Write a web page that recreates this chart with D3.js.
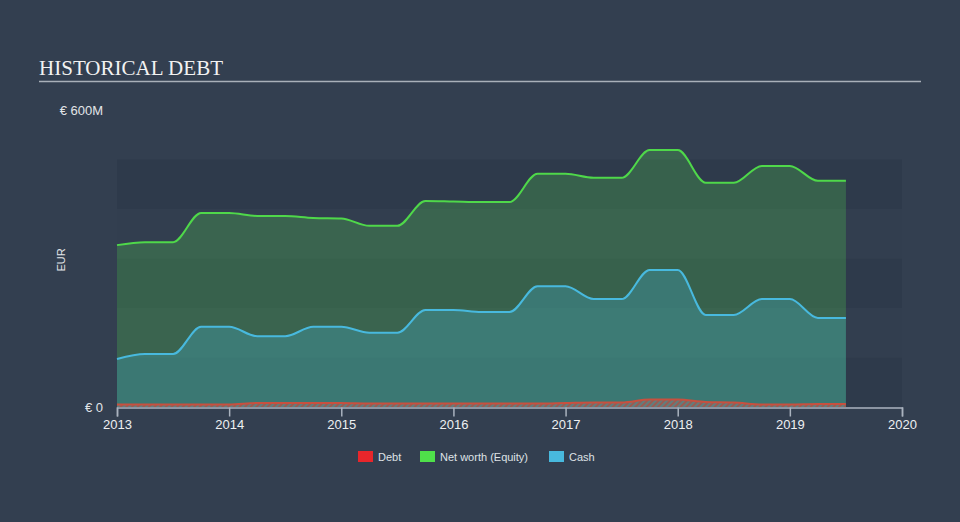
<!DOCTYPE html>
<html><head><meta charset="utf-8">
<script src="https://cdn.jsdelivr.net/npm/d3@7"></script>
<style>
html,body{margin:0;padding:0;background:#333f50;}
svg{display:block;}
</style></head>
<body>
<svg id="c" width="960" height="522"></svg>
<script>
const periods = [2013.0,2013.25,2013.5,2013.75,2014.0,2014.25,2014.5,2014.75,2015.0,2015.25,2015.5,2015.75,2016.0,2016.25,2016.5,2016.75,2017.0,2017.25,2017.5,2017.75,2018.0,2018.25,2018.5,2018.75,2019.0,2019.25,2019.5];
const netWorth = [327,333,333,392,392,386,386,382,381,366,366,416,415,414,414,471,471,463,463,519,519,453,453,487,487,457,457];
const cash = [97,107,107,162,162,143,143,162,162,150,150,196,196,192,192,244,244,218,218,277,277,186,186,218,218,180,180];
const debt = [5,5,5,5,5,8,8,8,8,7,7,7,7,7,7,7,8,9,9,15,15,10,9,5,5,6,6];
const yearTicks = [2013,2014,2015,2016,2017,2018,2019,2020];
const bandValues = [0,100,200,300,400];
const legendItems = [{name:"Debt",color:"#e8262b"},{name:"Net worth (Equity)",color:"#4fe04a"},{name:"Cash",color:"#48b9de"}];

const svg = d3.select("#c");
const x = d3.scaleLinear().domain([2013,2020]).range([117,902]);
const y = d3.scaleLinear().domain([0,600]).range([407,110]);

// title
svg.append("text").attr("x",39).attr("y",75).attr("fill","#f2f2f2")
  .attr("font-family","'Liberation Serif','Times New Roman',serif").attr("font-size",21)
  .attr("textLength",184).attr("lengthAdjust","spacingAndGlyphs")
  .text("HISTORICAL DEBT");
svg.append("line").attr("x1",39).attr("x2",921).attr("y1",81.5).attr("y2",81.5)
  .attr("stroke","#a9b0b9").attr("stroke-width",1.5);

// bands
svg.append("g").selectAll("rect").data(bandValues).join("rect")
  .attr("x",x(2013)).attr("width",x(2020)-x(2013))
  .attr("y",d=>y(d+100)).attr("height",d=>y(d)-y(d+100))
  .attr("fill",(d,i)=> i%2===0 ? "#2e3a4b" : "#323e4f");

// hatch pattern
const defs = svg.append("defs");
const pat = defs.append("pattern").attr("id","hatch").attr("patternUnits","userSpaceOnUse")
  .attr("width",4).attr("height",4).attr("patternTransform","rotate(45)");
pat.append("rect").attr("width",4).attr("height",4).attr("fill","#6b7f80");
pat.append("rect").attr("width",2).attr("height",4).attr("fill","#b2544a");

const data = periods.map((p,i)=>({p, nw:netWorth[i], cash:cash[i], debt:debt[i]}));
const curve = d3.curveMonotoneX;
const area = key => d3.area().curve(curve).x(d=>x(d.p)).y0(y(0)).y1(d=>y(d[key]));
const line = key => d3.line().curve(curve).x(d=>x(d.p)).y(d=>y(d[key]));

svg.append("path").datum(data).attr("d",area("nw")).attr("fill","rgba(80,205,80,0.27)");
svg.append("path").datum(data).attr("d",area("cash")).attr("fill","rgba(72,185,222,0.27)");
svg.append("path").datum(data).attr("d",area("debt")).attr("fill","url(#hatch)").attr("opacity",0.8);

svg.append("path").datum(data).attr("d",line("nw")).attr("fill","none").attr("stroke","#4fd84a").attr("stroke-width",2);
svg.append("path").datum(data).attr("d",line("cash")).attr("fill","none").attr("stroke","#48b9de").attr("stroke-width",2);
svg.append("path").datum(data).attr("d",line("debt")).attr("fill","none").attr("stroke","#c8503f").attr("stroke-width",2);

// x axis
const ax = svg.append("g").attr("transform",`translate(0,${y(0)+0.5})`)
  .call(d3.axisBottom(x).tickValues(yearTicks).tickFormat(d3.format("d")).tickSize(9).tickPadding(3));
ax.select(".domain").attr("stroke","#aab3bf").attr("stroke-width",1.5);
ax.selectAll(".tick line").attr("stroke","#aab3bf").attr("stroke-width",1.5);
ax.selectAll(".tick text").attr("fill","#eef0f2").attr("font-size",13)
  .attr("font-family","'Liberation Sans',Arial,sans-serif");

// y labels
const yl = [{v:600,t:"€ 600M"},{v:0,t:"€ 0"}];
svg.append("g").selectAll("text").data(yl).join("text")
  .attr("x",103).attr("y",d=>y(d.v)+4.5).attr("text-anchor","end")
  .attr("fill","#e2e5e8").attr("font-size",13).attr("font-family","'Liberation Sans',Arial,sans-serif")
  .text(d=>d.t);
svg.append("text").attr("transform","translate(65,260) rotate(-90)").attr("text-anchor","middle")
  .attr("fill","#e2e5e8").attr("font-size",11).attr("font-family","'Liberation Sans',Arial,sans-serif")
  .text("EUR");

// legend
const lx = [358,420,549];
const lg = svg.append("g").selectAll("g").data(legendItems).join("g")
  .attr("transform",(d,i)=>`translate(${lx[i]},451)`);
lg.append("rect").attr("width",15).attr("height",11).attr("fill",d=>d.color);
lg.append("text").attr("x",20).attr("y",9.5).attr("fill","#dfe2e6").attr("font-size",11)
  .attr("font-family","'Liberation Sans',Arial,sans-serif").text(d=>d.name);
</script>
</body></html>
